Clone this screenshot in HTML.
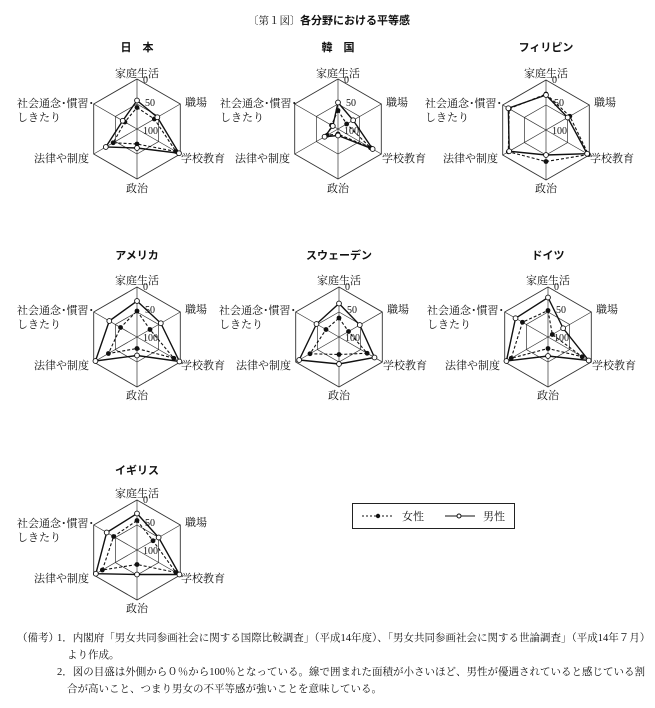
<!DOCTYPE html>
<html><head><meta charset="utf-8"><style>
body{margin:0;background:#fff;width:655px;height:708px;overflow:hidden;font-family:"Liberation Serif","Noto Serif CJK SC","Noto Sans CJK JP",serif;}
svg{position:absolute;left:0;top:0}
text{font-family:"Liberation Serif","Noto Serif CJK SC","Noto Sans CJK JP",serif;fill:#111}
.l{font-size:11px}
.n{font-size:10px;font-family:"Liberation Sans","Noto Sans CJK JP",sans-serif}
.t{font-size:11px;font-weight:bold;font-family:"Liberation Sans","Noto Sans CJK JP",sans-serif}
.f{font-size:10.5px}
</style></head><body>
<svg id="s" width="655" height="708" viewBox="0 0 655 708" xmlns="http://www.w3.org/2000/svg">
<text x="248" y="24" class="f">〔第１図〕</text><text x="300" y="24" class="t">各分野における平等感</text>

<text x="137" y="51" class="t" text-anchor="middle">日　本</text>
<text x="338" y="51" class="t" text-anchor="middle">韓　国</text>
<text x="546" y="51" class="t" text-anchor="middle">フィリピン</text>
<text x="137" y="259" class="t" text-anchor="middle">アメリカ</text>
<text x="339" y="259" class="t" text-anchor="middle">スウェーデン</text>
<text x="548" y="259" class="t" text-anchor="middle">ドイツ</text>
<text x="137" y="474" class="t" text-anchor="middle">イギリス</text>

<g id="labels"></g>
<g id="g"></g>

<rect x="352.5" y="503.5" width="162" height="25" fill="none" stroke="#222" stroke-width="1"/>
<line x1="362" y1="516" x2="392" y2="516" stroke="#111" stroke-dasharray="2,2"/>
<circle cx="378" cy="516" r="2.2" fill="#111"/>
<text x="402" y="520" class="l">女性</text>
<line x1="445" y1="516" x2="475" y2="516" stroke="#111"/>
<circle cx="459" cy="516" r="2" fill="#fff" stroke="#111"/>
<text x="483" y="520" class="l">男性</text>

<text x="17" y="641" class="f">（備考）</text>
<text x="57" y="641" class="f">1．内閣府「男女共同参画社会に関する国際比較調査」（平成14年度）、「男女共同参画社会に関する世論調査」（平成14年７月）</text>
<text x="67" y="658" class="f">より作成。</text>
<text x="57" y="675" class="f">2．図の目盛は外側から０％から100％となっている。線で囲まれた面積が小さいほど、男性が優遇されていると感じている割</text>
<text x="67" y="692" class="f">合が高いこと、つまり男女の不平等感が強いことを意味している。</text>

<!-- static labels per chart -->
<g class="l">
<text x="137" y="77" text-anchor="middle">家庭生活</text><text x="185" y="106">職場</text><text x="181" y="162">学校教育</text><text x="137" y="192" text-anchor="middle">政治</text><text x="89" y="162" text-anchor="end">法律や制度</text><text x="17" y="107">社会通念･慣習･</text><text x="17" y="121">しきたり</text>
<text x="338" y="77" text-anchor="middle">家庭生活</text><text x="386" y="106">職場</text><text x="382" y="162">学校教育</text><text x="338" y="192" text-anchor="middle">政治</text><text x="290" y="162" text-anchor="end">法律や制度</text><text x="220" y="107">社会通念･慣習･</text><text x="220" y="121">しきたり</text>
<text x="546" y="77" text-anchor="middle">家庭生活</text><text x="594" y="106">職場</text><text x="590" y="162">学校教育</text><text x="546" y="192" text-anchor="middle">政治</text><text x="498" y="162" text-anchor="end">法律や制度</text><text x="425" y="107">社会通念･慣習･</text><text x="425" y="121">しきたり</text>
<text x="137" y="284" text-anchor="middle">家庭生活</text><text x="185" y="313">職場</text><text x="181" y="369">学校教育</text><text x="137" y="399" text-anchor="middle">政治</text><text x="89" y="369" text-anchor="end">法律や制度</text><text x="17" y="314">社会通念･慣習･</text><text x="17" y="328">しきたり</text>
<text x="339" y="284" text-anchor="middle">家庭生活</text><text x="387" y="313">職場</text><text x="383" y="369">学校教育</text><text x="339" y="399" text-anchor="middle">政治</text><text x="291" y="369" text-anchor="end">法律や制度</text><text x="219" y="314">社会通念･慣習･</text><text x="219" y="328">しきたり</text>
<text x="548" y="284" text-anchor="middle">家庭生活</text><text x="596" y="313">職場</text><text x="592" y="369">学校教育</text><text x="548" y="399" text-anchor="middle">政治</text><text x="500" y="369" text-anchor="end">法律や制度</text><text x="427" y="314">社会通念･慣習･</text><text x="427" y="328">しきたり</text>
<text x="137" y="497" text-anchor="middle">家庭生活</text><text x="185" y="526">職場</text><text x="181" y="582">学校教育</text><text x="137" y="612" text-anchor="middle">政治</text><text x="89" y="582" text-anchor="end">法律や制度</text><text x="17" y="527">社会通念･慣習･</text><text x="17" y="541">しきたり</text>
</g>
<g class="n">
<text x="143" y="83">0</text><text x="145" y="106">50</text><text x="143" y="134">100</text>
<text x="344" y="83">0</text><text x="346" y="106">50</text><text x="344" y="134">100</text>
<text x="552" y="83">0</text><text x="554" y="106">50</text><text x="552" y="134">100</text>
<text x="143" y="290">0</text><text x="145" y="313">50</text><text x="143" y="341">100</text>
<text x="345" y="290">0</text><text x="347" y="313">50</text><text x="345" y="341">100</text>
<text x="554" y="290">0</text><text x="556" y="313">50</text><text x="554" y="341">100</text>
<text x="143" y="503">0</text><text x="145" y="526">50</text><text x="143" y="554">100</text>
</g>
</svg>
<script>
var NS="http://www.w3.org/2000/svg",g=document.getElementById("g");
function el(t,a){var e=document.createElementNS(NS,t);for(var k in a)e.setAttribute(k,a[k]);g.appendChild(e);return e;}
var C=[
[137,129,[.57,.47,.97,.38,.72,.33],[.43,.4,.9,.3,.55,.28]],
[338,129,[.53,.35,.8,.13,.31,.12],[.37,.2,.75,.1,.25,.15]],
[546,130,[.7,.5,.95,.5,.85,.87],[.72,.55,.98,.63,.87,.85]],
[137,337,[.72,.55,.98,.37,.96,.64],[.52,.3,.85,.23,.66,.38]],
[339,337,[.67,.48,.82,.54,.92,.52],[.38,.22,.65,.35,.67,.3]],
[548,337,[.79,.35,.94,.38,.96,.75],[.53,.1,.79,.23,.85,.59]],
[137,550,[.73,.5,.98,.49,.95,.7],[.59,.37,.9,.29,.8,.54]]];
var R=50;
function pt(cx,cy,i,r){var a=(-90+60*i)*Math.PI/180;return[cx+r*R*Math.cos(a),cy+r*R*Math.sin(a)];}
C.forEach(function(c){
 var cx=c[0],cy=c[1];
 [1,.5].forEach(function(s){var p=[];for(var i=0;i<6;i++)p.push(pt(cx,cy,i,s).join(","));el("polygon",{points:p.join(" "),fill:"none",stroke:"#333","stroke-width":s==1?0.9:0.7});});
 for(var i=0;i<6;i++){var q=pt(cx,cy,i,1);el("line",{x1:cx,y1:cy,x2:q[0],y2:q[1],stroke:"#333","stroke-width":0.7});}
 var pm=[],pw=[];for(var i=0;i<6;i++){pm.push(pt(cx,cy,i,c[2][i]));pw.push(pt(cx,cy,i,c[3][i]));}
 el("polygon",{points:pw.map(function(p){return p.join(",")}).join(" "),fill:"none",stroke:"#111","stroke-width":1.1,"stroke-dasharray":"3,2"});
 el("polygon",{points:pm.map(function(p){return p.join(",")}).join(" "),fill:"none",stroke:"#111","stroke-width":1.4});
 pw.forEach(function(p){el("circle",{cx:p[0],cy:p[1],r:2.4,fill:"#111"});});
 pm.forEach(function(p){el("circle",{cx:p[0],cy:p[1],r:2.4,fill:"#fff",stroke:"#111","stroke-width":0.9});});
});
</script>
</body></html>
